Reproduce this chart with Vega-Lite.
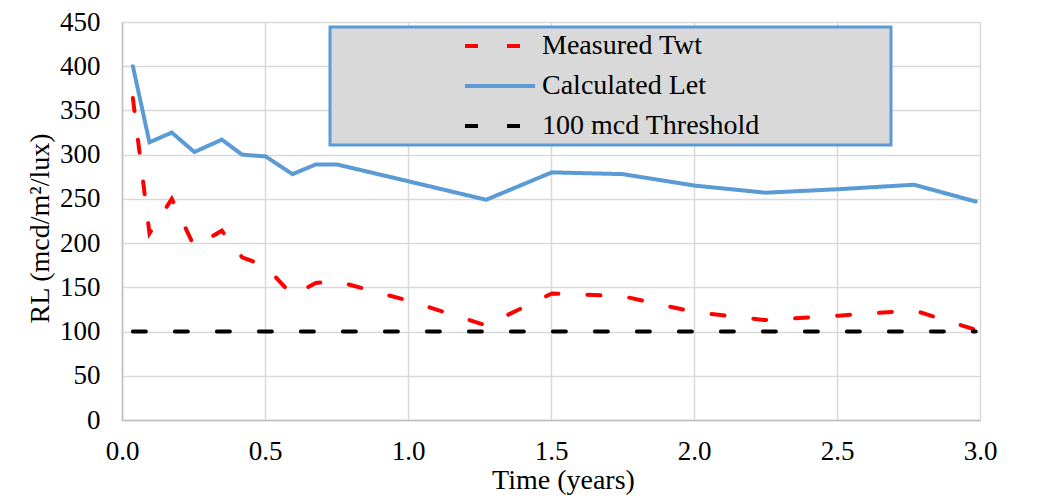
{
  "$schema": "https://vega.github.io/schema/vega-lite/v6.json",
  "width": 858,
  "height": 398,
  "autosize": {"type": "none"},
  "padding": {"left": 122, "top": 22, "right": 65, "bottom": 79},
  "background": "#FFFFFF",
  "config": {
    "view": {"stroke": null},
    "font": "Liberation Serif",
    "style": {
      "guide-label": {"font": "Liberation Serif", "fill": "#000000"},
      "guide-title": {"font": "Liberation Serif", "fill": "#000000"}
    },
    "axis": {
      "labelFont": "Liberation Serif",
      "titleFont": "Liberation Serif",
      "labelFontSize": 27,
      "titleFontSize": 28,
      "labelColor": "#000000",
      "titleColor": "#000000",
      "titleFontWeight": "normal",
      "gridColor": "#D9D9D9",
      "gridWidth": 1.5,
      "domainColor": "#BFBFBF",
      "domainWidth": 1.5,
      "ticks": false,
      "tickSize": 0
    },
    "legend": {"labelFont": "Liberation Serif", "titleFont": "Liberation Serif"}
  },
  "data": {
    "values": [
      {"t": 0.038, "rl": 400, "series": "Calculated Let"},
      {"t": 0.096, "rl": 314, "series": "Calculated Let"},
      {"t": 0.174, "rl": 325, "series": "Calculated Let"},
      {"t": 0.253, "rl": 303, "series": "Calculated Let"},
      {"t": 0.349, "rl": 317, "series": "Calculated Let"},
      {"t": 0.42, "rl": 300, "series": "Calculated Let"},
      {"t": 0.502, "rl": 298, "series": "Calculated Let"},
      {"t": 0.596, "rl": 278, "series": "Calculated Let"},
      {"t": 0.678, "rl": 289, "series": "Calculated Let"},
      {"t": 0.75, "rl": 289, "series": "Calculated Let"},
      {"t": 1.0, "rl": 270, "series": "Calculated Let"},
      {"t": 1.273, "rl": 249, "series": "Calculated Let"},
      {"t": 1.503, "rl": 280, "series": "Calculated Let"},
      {"t": 1.75, "rl": 278, "series": "Calculated Let"},
      {"t": 2.003, "rl": 265, "series": "Calculated Let"},
      {"t": 2.25, "rl": 257, "series": "Calculated Let"},
      {"t": 2.507, "rl": 261, "series": "Calculated Let"},
      {"t": 2.769, "rl": 266, "series": "Calculated Let"},
      {"t": 2.985, "rl": 247, "series": "Calculated Let"},
      {"t": 0.038, "rl": 364, "series": "Measured Twt"},
      {"t": 0.096, "rl": 211, "series": "Measured Twt"},
      {"t": 0.174, "rl": 250, "series": "Measured Twt"},
      {"t": 0.253, "rl": 196, "series": "Measured Twt"},
      {"t": 0.349, "rl": 214, "series": "Measured Twt"},
      {"t": 0.42, "rl": 184, "series": "Measured Twt"},
      {"t": 0.502, "rl": 174, "series": "Measured Twt"},
      {"t": 0.596, "rl": 141, "series": "Measured Twt"},
      {"t": 0.678, "rl": 155, "series": "Measured Twt"},
      {"t": 0.75, "rl": 157, "series": "Measured Twt"},
      {"t": 1.0, "rl": 135, "series": "Measured Twt"},
      {"t": 1.273, "rl": 107, "series": "Measured Twt"},
      {"t": 1.503, "rl": 143, "series": "Measured Twt"},
      {"t": 1.75, "rl": 140, "series": "Measured Twt"},
      {"t": 2.003, "rl": 122, "series": "Measured Twt"},
      {"t": 2.25, "rl": 113, "series": "Measured Twt"},
      {"t": 2.507, "rl": 118, "series": "Measured Twt"},
      {"t": 2.769, "rl": 124, "series": "Measured Twt"},
      {"t": 2.985, "rl": 102, "series": "Measured Twt"},
      {"t": 0.038, "rl": 100, "series": "100 mcd Threshold"},
      {"t": 2.985, "rl": 100, "series": "100 mcd Threshold"}
    ]
  },
  "mark": {"type": "line", "strokeWidth": 4, "strokeCap": "round", "clip": false},
  "encoding": {
    "x": {
      "field": "t",
      "type": "quantitative",
      "title": "Time (years)",
      "scale": {"domain": [0, 3], "nice": false, "zero": false},
      "axis": {
        "values": [0, 0.5, 1, 1.5, 2, 2.5, 3],
        "format": ".1f",
        "labelFont": "Liberation Serif",
        "titleFont": "Liberation Serif",
        "labelPadding": 18,
        "titlePadding": 2,
        "titleX": 441,
        "labelFlush": false
      }
    },
    "y": {
      "field": "rl",
      "type": "quantitative",
      "title": "RL (mcd/m²/lux)",
      "scale": {"domain": [0, 450], "nice": false},
      "axis": {
        "values": [0, 50, 100, 150, 200, 250, 300, 350, 400, 450],
        "labelFont": "Liberation Serif",
        "titleFont": "Liberation Serif",
        "labelPadding": 22,
        "titleX": -68,
        "titleY": 206,
        "titleFontSize": 28
      }
    },
    "color": {
      "field": "series",
      "type": "nominal",
      "scale": {
        "domain": ["Measured Twt", "Calculated Let", "100 mcd Threshold"],
        "range": ["#FF0000", "#5B9BD5", "#000000"]
      },
      "legend": {
        "orient": "none",
        "legendX": 208,
        "legendY": 5,
        "direction": "vertical",
        "title": null,
        "fillColor": "#D9D9D9",
        "strokeColor": "#5B9BD5",
        "padding": 5,
        "symbolType": "stroke",
        "symbolSize": 4900,
        "symbolStrokeWidth": 4,
        "symbolOffset": 128,
        "clipHeight": 28,
        "rowPadding": 12,
        "labelFont": "Liberation Serif",
        "labelFontSize": 28,
        "labelColor": "#000000",
        "labelOffset": 5,
        "labelLimit": 600,
        "labelExpr": "datum.label + '\u2003\u2003\u2003\u2003\u2002\u200b'",
        "encode": {"legend": {"update": {"strokeWidth": {"value": 3}}}}
      }
    },
    "strokeDash": {
      "field": "series",
      "type": "nominal",
      "scale": {
        "domain": ["Measured Twt", "Calculated Let", "100 mcd Threshold"],
        "range": [[13, 29], [1, 0], [13, 29]]
      }
    }
  }
}
